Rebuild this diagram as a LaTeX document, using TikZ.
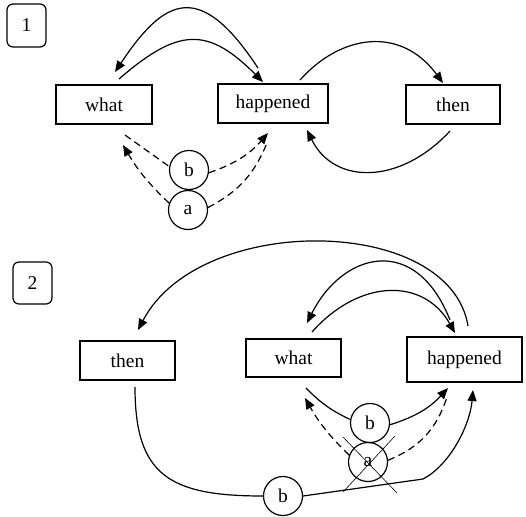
\documentclass[tikz,border=0pt]{standalone}
\usepackage{fontspec}
\setmainfont{Liberation Serif}
\usetikzlibrary{arrows.meta}
\begin{document}
\begin{tikzpicture}[x=1pt,y=-1pt,
  every node/.style={font=\fontsize{19.5}{23}\selectfont},
  wbox/.style={draw,line width=1.2pt,inner sep=0pt,minimum width=#1,minimum height=39},
  numbox/.style={draw,line width=1.2pt,rounded corners=6pt,inner sep=0pt,minimum width=39,minimum height=43},
  circ/.style={draw,circle,line width=1.2pt,inner sep=0pt,minimum size=39},
  conn/.style={line width=1.2pt},
  arr/.style={conn,-{Triangle[length=11pt,width=9pt]}},
  dsh/.style={line width=1.2pt,dash pattern=on 7pt off 4.5pt},
  cross/.style={line width=0.6pt}]
\useasboundingbox (0,0) rectangle (526,516);
% ---------- panel 1 ----------
\node[numbox] (n1) at (26.5,25.5) {1};
\node[wbox=96] (w1) at (104,104.5) {what};
\node[wbox=110] (h1) at (273,103.5) {happened};
\node[wbox=94] (t1) at (453,104.5) {then};
\node[circ] (b1) at (189,170) {b};
\node[circ] (a1) at (188,210) {a};
\draw[arr] ([shift={(-15,-35.5)}]h1.center) .. controls +(-58,-88) and +(50,-75) .. ([shift={(11,-32.5)}]w1.center);
\draw[arr] ([shift={(15,-25.5)}]w1.center) .. controls +(60,-52) and +(-55,-55) .. ([shift={(-10,-21.5)}]h1.center);
\draw[arr] ([shift={(27,-23.5)}]h1.center) .. controls +(40,-45) and +(-43,-58) .. ([shift={(-10,-21.5)}]t1.center);
\draw[arr] ([shift={(-3,26.5)}]t1.center) .. controls +(-50,54) and +(27,55) .. ([shift={(34,26.5)}]h1.center);
\draw[dsh] ([shift={(21,30.5)}]w1.center) -- (b1.170);
\draw[dsh,-{Triangle[length=11pt,width=9pt]}] (b1.-8) to[bend right=15] ([shift={(-5,29.5)}]h1.center);
\draw[dsh,-{Triangle[length=11pt,width=9pt]}] (a1.160) to[bend left=8] ([shift={(19,40.5)}]w1.center);
\draw[dsh] (a1.7) to[bend right=20] ([shift={(-6,39.5)}]h1.center);
% ---------- panel 2 ----------
\node[numbox,minimum height=42] (n2) at (32.5,283) {2};
\node[wbox=95] (t2) at (127.5,360.5) {then};
\node[wbox=95,minimum height=38] (w2) at (293.5,358) {what};
\node[wbox=115,minimum height=45] (h2) at (464.5,359.5) {happened};
\node[circ] (b2) at (370,423) {b};
\node[circ] (a2) at (368,462) {a};
\node[circ] (b3) at (283,496) {b};
\coordinate (k2) at (423,479);
\draw[arr] ([shift={(3.5,-33.5)}]h2.center) .. controls +(-18,-111) and +(62,-118) .. ([shift={(10.5,-30.5)}]t2.center);
\draw[arr] ([shift={(-14.5,-39.5)}]h2.center) .. controls +(-35,-88) and +(35,-70) .. ([shift={(13.5,-35)}]w2.center);
\draw[arr] ([shift={(18.5,-26)}]w2.center) .. controls +(48,-54) and +(-31,-55) .. ([shift={(-9.5,-26.5)}]h2.center);
\draw[conn] ([shift={(12.5,30)}]w2.center) to[bend right=10] (b2.170);
\draw[arr] (b2.-5) to[bend right=15] ([shift={(-16.5,28.5)}]h2.center);
\draw[dsh,-{Triangle[length=11pt,width=9pt]}] (a2.160) to[bend left=8] ([shift={(11.5,40)}]w2.center);
\draw[dsh] (a2.5) to[bend right=25] ([shift={(-17.5,37.5)}]h2.center);
\draw[conn] ([shift={(7.5,26.5)}]t2.center) .. controls +(0,88) and +(-94,0) .. (b3.west);
\draw[arr] (b3.east) -- (k2) .. controls +(27,-14) and +(-3,35) .. ([shift={(8.5,30.5)}]h2.center);
\draw[cross] ([shift={(-25,-25)}]a2.center) -- ([shift={(29,31)}]a2.center);
\draw[cross] ([shift={(27,-26)}]a2.center) -- ([shift={(-25,30)}]a2.center);
\end{tikzpicture}
\end{document}
